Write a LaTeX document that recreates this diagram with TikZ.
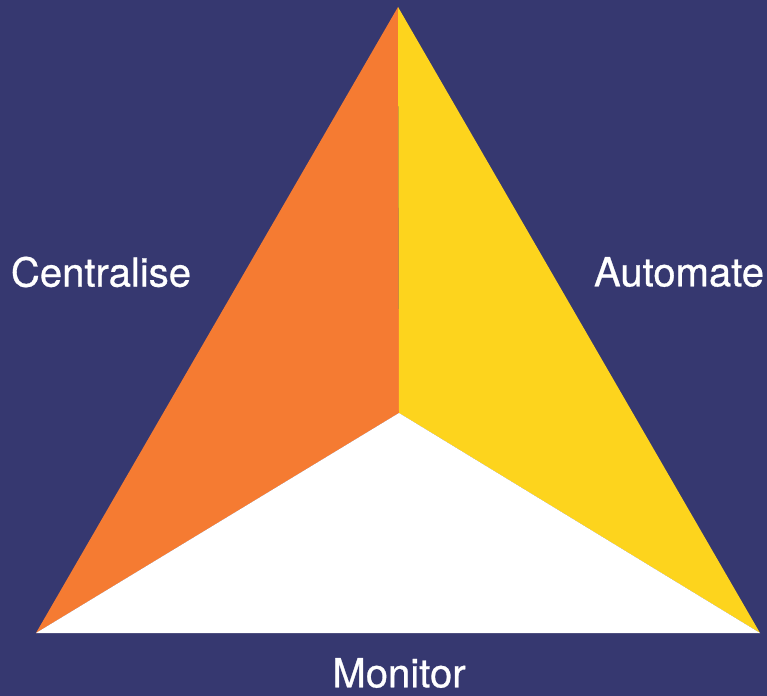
\documentclass[tikz,border=0pt]{standalone}
\usepackage{fontspec}
\setmainfont{TeX Gyre Heros}[FakeBold=0.7]
\usetikzlibrary{positioning}
\definecolor{bgblue}{HTML}{363870}
\definecolor{faceorange}{HTML}{F57B32}
\definecolor{faceyellow}{HTML}{FDD41D}
\tikzset{
    face/.style={draw=none},
    side label/.style={text=white,inner sep=0pt,font=\fontsize{22.8}{27}\selectfont}
}

\begin{document}
\begin{tikzpicture}[x=0.02cm,y=-0.02cm]
        \fill[bgblue] (0,0) rectangle (767,696);
        \coordinate (top) at (398,7);
        \coordinate (mid) at (399,413);
        \coordinate (left) at (36,633);
        \coordinate (right) at (760,633);

        \fill[face,faceorange] (top) -- (mid) -- (left) -- cycle;
        \fill[face,faceyellow] (top) -- (right) -- (mid) -- cycle;
        \fill[face,white] (left) -- (mid) -- (right) -- cycle;

        \node[side label] (centralise) at (101,272) {Centralise};
        \node[side label] (automate) at (679,272) {Automate};
        \node[side label] (monitor) at (399,673) {Monitor};
    \end{tikzpicture}
\end{document}
